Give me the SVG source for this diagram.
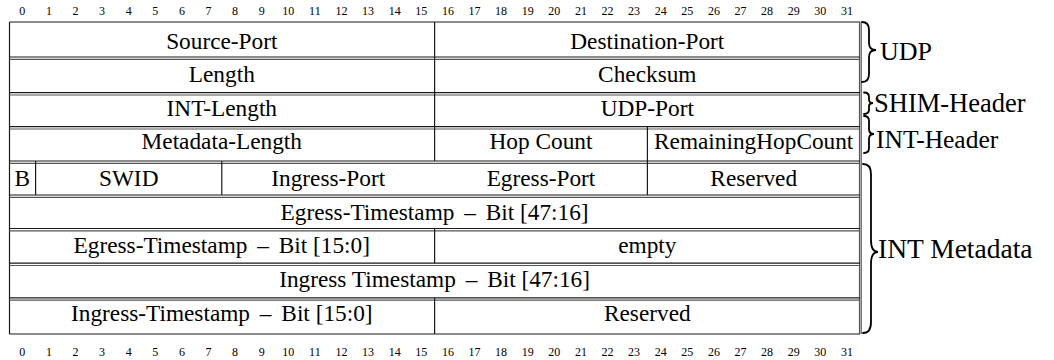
<svg xmlns="http://www.w3.org/2000/svg" width="1054" height="360" viewBox="0 0 1054 360" font-family="Liberation Serif, Times New Roman, serif">
<style>
text{font-family:"Liberation Serif","Times New Roman",serif}
.f{font-size:23.3px;text-anchor:middle}
.r{font-size:12px;text-anchor:middle}
.ln{stroke:#1a1a1a;stroke-width:1.2;fill:none}
.ln2{stroke:#555;stroke-width:1.2;fill:none}
.br{stroke:#000;stroke-width:1.8;fill:none;stroke-linecap:round}
</style>
<rect width="1054" height="360" fill="#fff"/>
<g id="ruler-top">
<text class="r" x="22.3" y="15">0</text><text class="r" x="48.9" y="15">1</text><text class="r" x="75.5" y="15">2</text><text class="r" x="102.1" y="15">3</text><text class="r" x="128.7" y="15">4</text><text class="r" x="155.3" y="15">5</text><text class="r" x="181.9" y="15">6</text><text class="r" x="208.5" y="15">7</text><text class="r" x="235.1" y="15">8</text><text class="r" x="261.7" y="15">9</text><text class="r" x="288.3" y="15">10</text><text class="r" x="314.9" y="15">11</text><text class="r" x="341.5" y="15">12</text><text class="r" x="368.1" y="15">13</text><text class="r" x="394.7" y="15">14</text><text class="r" x="421.3" y="15">15</text><text class="r" x="447.9" y="15">16</text><text class="r" x="474.5" y="15">17</text><text class="r" x="501.1" y="15">18</text><text class="r" x="527.7" y="15">19</text><text class="r" x="554.3" y="15">20</text><text class="r" x="580.9" y="15">21</text><text class="r" x="607.5" y="15">22</text><text class="r" x="634.1" y="15">23</text><text class="r" x="660.7" y="15">24</text><text class="r" x="687.3" y="15">25</text><text class="r" x="713.9" y="15">26</text><text class="r" x="740.5" y="15">27</text><text class="r" x="767.1" y="15">28</text><text class="r" x="793.7" y="15">29</text><text class="r" x="820.3" y="15">30</text><text class="r" x="846.9" y="15">31</text>
</g>
<g id="ruler-bottom">
<text class="r" x="22.3" y="356">0</text><text class="r" x="48.9" y="356">1</text><text class="r" x="75.5" y="356">2</text><text class="r" x="102.1" y="356">3</text><text class="r" x="128.7" y="356">4</text><text class="r" x="155.3" y="356">5</text><text class="r" x="181.9" y="356">6</text><text class="r" x="208.5" y="356">7</text><text class="r" x="235.1" y="356">8</text><text class="r" x="261.7" y="356">9</text><text class="r" x="288.3" y="356">10</text><text class="r" x="314.9" y="356">11</text><text class="r" x="341.5" y="356">12</text><text class="r" x="368.1" y="356">13</text><text class="r" x="394.7" y="356">14</text><text class="r" x="421.3" y="356">15</text><text class="r" x="447.9" y="356">16</text><text class="r" x="474.5" y="356">17</text><text class="r" x="501.1" y="356">18</text><text class="r" x="527.7" y="356">19</text><text class="r" x="554.3" y="356">20</text><text class="r" x="580.9" y="356">21</text><text class="r" x="607.5" y="356">22</text><text class="r" x="634.1" y="356">23</text><text class="r" x="660.7" y="356">24</text><text class="r" x="687.3" y="356">25</text><text class="r" x="713.9" y="356">26</text><text class="r" x="740.5" y="356">27</text><text class="r" x="767.1" y="356">28</text><text class="r" x="793.7" y="356">29</text><text class="r" x="820.3" y="356">30</text><text class="r" x="846.9" y="356">31</text>
</g>
<g id="grid">
<path class="ln" d="M9.5,22 H860 M9.5,22 V334 M9.5,334 H860"/>
<path class="ln2" d="M859.5,22 V334 M861.2,22 V334"/>
<path class="ln" d="M9.5,57 H860 M9.5,92.7 H860 M9.5,126.7 H860 M9.5,161 H860 M9.5,195 H860 M9.5,228.5 H860 M9.5,263.2 H860 M9.5,297.8 H860"/>
<path class="ln2" d="M9.5,59.3 H860 M9.5,95 H860 M9.5,129 H860 M9.5,163.3 H860 M9.5,197.3 H860 M9.5,230.8 H860 M9.5,265.5 H860 M9.5,300.1 H860"/>
<path class="ln" d="M434.6,22 V161 M647.4,126.7 V195 M35.6,161 V195 M221.8,161 V195 M434.6,228.5 V263.2 M434.6,297.8 V334"/>
</g>
<g id="row1"><text class="f" x="221.8" y="49">Source-Port</text><text class="f" x="647.3" y="49">Destination-Port</text></g>
<g id="row2"><text class="f" x="221.8" y="81.5">Length</text><text class="f" x="647.3" y="81.5">Checksum</text></g>
<g id="row3"><text class="f" x="221.8" y="115.5">INT-Length</text><text class="f" x="647.3" y="115.5">UDP-Port</text></g>
<g id="row4"><text class="f" x="221.8" y="149">Metadata-Length</text><text class="f" x="541" y="149">Hop Count</text><text class="f" x="753.7" y="149">RemainingHopCount</text></g>
<g id="row5"><text class="f" x="22.3" y="186">B</text><text class="f" x="128.7" y="186">SWID</text><text class="f" x="328.2" y="186">Ingress-Port</text><text class="f" x="541" y="186">Egress-Port</text><text class="f" x="753.7" y="186">Reserved</text></g>
<g id="row6"><text class="f" x="434.6" y="219.5">Egress-Timestamp <tspan dx="4">–</tspan><tspan dx="4"> Bit [47:16]</tspan></text></g>
<g id="row7"><text class="f" x="221.8" y="253">Egress-Timestamp <tspan dx="4">–</tspan><tspan dx="4"> Bit [15:0]</tspan></text><text class="f" x="647.3" y="253">empty</text></g>
<g id="row8"><text class="f" x="434.6" y="287">Ingress Timestamp <tspan dx="4">–</tspan><tspan dx="4"> Bit [47:16]</tspan></text></g>
<g id="row9"><text class="f" x="221.8" y="321">Ingress-Timestamp <tspan dx="4">–</tspan><tspan dx="4"> Bit [15:0]</tspan></text><text class="f" x="647.3" y="321">Reserved</text></g>
<g id="braces">
<path class="br" d="M862,22 Q869,22 869,30 V43 Q869,50 876,50 Q869,50 869,57 V74 Q869,82 862,82"/>
<path class="br" d="M864,92.5 Q869,92.5 869,97 V99.5 Q869,103 873,103 Q869,103 869,106.5 V109.5 Q869,114 864,114"/>
<path class="br" d="M864,116 Q869,116 869,121 V129 Q869,134 874,134 Q869,134 869,139 V148 Q869,153 864,153"/>
<path class="br" d="M863,164 Q871,164 871,174 V240 Q871,252 878,252 Q871,252 871,264 V322 Q871,333 863,333"/>
</g>
<g id="labels">
<text x="880" y="60" font-size="26">UDP</text>
<text x="874" y="111.5" font-size="26.5">SHIM-Header</text>
<text x="876" y="148" font-size="25.5">INT-Header</text>
<text x="878" y="258" font-size="27.5">INT Metadata</text>
</g>
</svg>
